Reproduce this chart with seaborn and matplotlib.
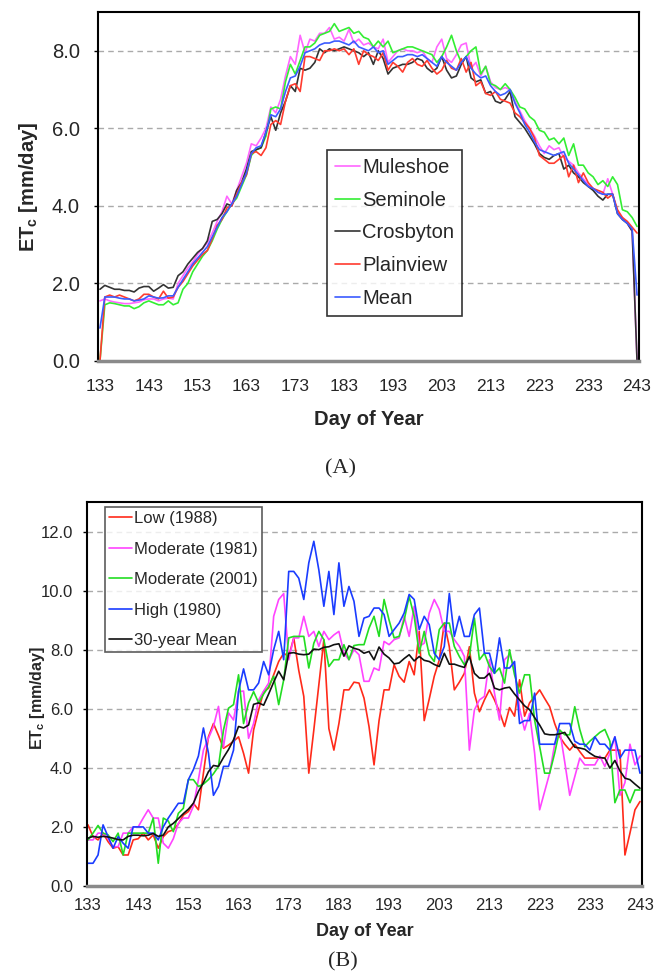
import pandas as pd
import matplotlib
matplotlib.use("Agg")
import matplotlib.pyplot as plt
import seaborn as sns

# x 값: 일자 (Day of Year)
DAYS = list(range(133, 244))

# (A) 관측소별 ETc [mm/day]
muleshoe = [1.55, 1.60, 1.55, 1.52, 1.50, 1.48, 1.48, 1.50, 1.52, 1.58,
            1.60, 1.60, 1.55, 1.60, 1.62, 1.60, 2.00, 2.20, 2.40, 2.55,
            2.75, 2.90, 3.05, 3.30, 3.60, 3.85, 4.25, 4.05, 4.40, 4.75,
            5.10, 5.60, 5.55, 5.75, 6.00, 6.55, 6.40, 6.75, 7.35, 7.85,
            7.65, 8.40, 7.95, 8.30, 8.25, 8.45, 8.45, 8.60, 8.30, 8.35,
            8.25, 8.55, 8.20, 8.30, 8.15, 8.20, 8.10, 8.05, 8.30, 7.70,
            7.85, 8.00, 8.05, 8.00, 8.00, 7.95, 8.00, 7.80, 7.70, 8.10,
            8.30, 7.80, 7.70, 7.90, 8.15, 8.20, 7.55, 7.70, 7.35, 7.60,
            7.20, 7.05, 7.00, 7.05, 7.00, 6.70, 6.45, 6.20, 6.00, 5.80,
            5.55, 5.35, 5.55, 5.45, 5.50, 5.25, 5.15, 5.05, 4.85, 4.70,
            4.55, 4.45, 4.35, 4.30, 4.70, 4.30, 3.85, 3.70, 3.55, 3.35,
            0.00]
seminole = [0.00, 1.45, 1.50, 1.48, 1.45, 1.42, 1.42, 1.35, 1.40, 1.50,
            1.55, 1.50, 1.45, 1.45, 1.55, 1.45, 1.50, 1.85, 2.00, 2.30,
            2.50, 2.70, 2.85, 3.10, 3.40, 3.65, 3.85, 4.05, 4.20, 4.50,
            4.80, 5.30, 5.45, 5.50, 5.80, 6.50, 6.55, 6.50, 7.20, 7.65,
            7.40, 7.75, 8.10, 8.10, 8.20, 8.40, 8.45, 8.50, 8.70, 8.50,
            8.55, 8.60, 8.45, 8.50, 8.35, 8.30, 8.10, 8.25, 8.10, 8.25,
            7.95, 8.00, 8.05, 8.10, 8.10, 8.05, 8.00, 7.95, 7.90, 7.70,
            7.85, 8.10, 8.40, 8.00, 7.70, 7.85, 8.00, 8.10, 7.40, 7.60,
            7.15, 7.10, 7.00, 7.15, 7.00, 6.80, 6.55, 6.50, 6.30, 6.20,
            5.95, 5.90, 5.70, 5.75, 5.60, 5.75, 5.30, 5.60, 5.05, 5.05,
            4.85, 4.75, 4.55, 4.65, 4.50, 4.75, 4.55, 3.90, 3.85, 3.70,
            3.47]
crosbyton = [1.85, 1.95, 1.90, 1.85, 1.85, 1.82, 1.82, 1.78, 1.88, 1.92,
             1.92, 1.80, 1.88, 1.97, 1.88, 1.90, 2.20, 2.30, 2.50, 2.65,
             2.80, 2.90, 3.10, 3.60, 3.65, 3.80, 4.05, 4.00, 4.40, 4.60,
             4.95, 5.40, 5.45, 5.50, 5.90, 6.30, 5.95, 6.40, 6.70, 7.10,
             6.95, 7.55, 7.50, 7.55, 7.70, 8.05, 7.95, 8.05, 8.00, 8.05,
             8.10, 8.05, 8.00, 7.95, 7.85, 7.95, 7.65, 8.00, 7.80, 7.40,
             7.55, 7.60, 7.65, 7.65, 7.70, 7.80, 7.75, 7.55, 7.45, 7.55,
             7.85, 7.50, 7.30, 7.35, 7.65, 7.85, 7.30, 7.20, 7.25, 6.90,
             6.95, 6.70, 6.65, 6.75, 6.95, 6.30, 6.15, 6.00, 5.80, 5.60,
             5.35, 5.25, 5.20, 5.30, 5.35, 4.95, 5.05, 4.85, 4.75, 4.60,
             4.50, 4.40, 4.25, 4.15, 4.30, 4.30, 3.80, 3.65, 3.55, 3.35,
             0.00]
plainview = [0.00, 1.65, 1.70, 1.65, 1.70, 1.65, 1.60, 1.55, 1.60, 1.72,
             1.72, 1.65, 1.60, 1.80, 1.62, 1.65, 1.90, 2.05, 2.25, 2.45,
             2.60, 2.75, 2.85, 3.15, 3.50, 3.65, 3.95, 4.00, 4.30, 4.60,
             4.80, 5.35, 5.40, 5.30, 5.50, 6.10, 6.20, 6.10, 6.70, 7.10,
             7.15, 6.95, 7.85, 7.85, 7.80, 7.75, 8.00, 8.00, 8.05, 8.00,
             8.05, 7.90, 8.05, 7.65, 8.00, 7.90, 7.85, 7.75, 7.95, 7.50,
             7.70, 7.60, 7.45, 7.70, 7.80, 7.65, 7.60, 7.75, 7.55, 7.40,
             7.50, 7.75, 7.55, 7.50, 7.80, 7.45, 7.70, 7.10, 7.20, 6.90,
             6.85, 6.95, 6.75, 6.70, 6.65, 6.40, 6.30, 6.15, 6.00, 5.75,
             5.30, 5.20, 5.10, 5.10, 5.20, 5.30, 4.75, 5.05, 4.60, 4.85,
             4.60, 4.45, 4.40, 4.35, 4.20, 4.30, 3.90, 3.70, 3.60, 3.45,
             3.30]
station_mean = [0.85, 1.65, 1.65, 1.65, 1.62, 1.60, 1.60, 1.55, 1.57, 1.60,
                1.68, 1.65, 1.62, 1.63, 1.68, 1.68, 1.90, 2.10, 2.30, 2.50,
                2.65, 2.80, 2.95, 3.20, 3.45, 3.70, 3.85, 4.05, 4.25, 4.55,
                4.85, 5.35, 5.50, 5.55, 5.90, 6.35, 6.30, 6.50, 6.95, 7.30,
                7.35, 7.60, 7.95, 8.00, 8.05, 8.15, 8.20, 8.20, 8.25, 8.25,
                8.20, 8.15, 8.25, 8.10, 8.05, 8.00, 8.10, 7.95, 8.00, 7.65,
                7.75, 7.85, 7.85, 7.90, 7.90, 7.85, 7.90, 7.80, 7.70, 7.60,
                7.85, 7.70, 7.60, 7.50, 7.70, 7.85, 7.55, 7.40, 7.30, 7.35,
                7.10, 6.95, 6.85, 6.90, 7.00, 6.65, 6.40, 6.10, 5.90, 5.65,
                5.45, 5.40, 5.35, 5.30, 5.35, 5.40, 5.10, 4.95, 4.80, 4.65,
                4.50, 4.45, 4.35, 4.30, 4.30, 4.30, 3.80, 3.65, 3.55, 3.40,
                1.70]

# (B) 연도별 ETc [mm/day]
low_1988 = [2.07, 1.67, 1.56, 1.79, 1.50, 1.28, 1.33, 1.05, 1.05, 1.56,
            1.60, 1.79, 1.56, 1.73, 1.28, 1.67, 1.84, 1.90, 2.10, 2.40,
            2.52, 2.80, 2.58, 3.82, 5.05, 5.50, 5.10, 4.66, 4.77, 4.90,
            5.05, 4.49, 3.82, 5.28, 5.96, 6.58, 6.70, 7.15, 7.60, 7.88,
            7.77, 8.40, 7.30, 6.42, 3.82, 5.28, 6.81, 8.34, 5.33, 4.60,
            5.50, 6.64, 6.64, 6.90, 6.87, 6.36, 5.40, 4.10, 5.60, 6.64,
            6.64, 7.49, 7.10, 6.90, 7.60, 7.15, 8.62, 5.60, 6.33, 7.10,
            7.65, 8.90, 8.10, 6.64, 6.90, 7.20, 8.10, 6.53, 5.90, 6.30,
            6.64, 6.30, 5.90, 5.40, 6.04, 5.75, 6.98, 5.75, 6.20, 6.42,
            6.64, 6.35, 6.07, 5.50, 5.05, 4.80, 4.60, 4.80, 4.55, 4.33,
            4.33, 4.33, 4.33, 4.33, 4.60, 4.60, 4.60, 1.05, 1.79, 2.58,
            2.86]
moderate_1981 = [1.56, 1.56, 1.79, 1.79, 1.60, 1.33, 1.33, 1.79, 1.79, 2.00,
                 2.00, 2.30, 2.58, 2.30, 2.30, 1.45, 1.28, 1.60, 2.12, 2.30,
                 2.30, 2.70, 3.60, 4.60, 5.00, 5.40, 6.08, 4.70, 5.86, 5.62,
                 6.58, 6.60, 5.00, 5.50, 6.30, 6.60, 6.87, 9.13, 9.70, 9.90,
                 7.66, 8.40, 8.40, 9.13, 8.45, 8.62, 8.11, 8.62, 8.34, 8.50,
                 8.62, 7.88, 7.66, 8.00, 7.83, 6.93, 6.93, 7.38, 7.30, 8.28,
                 8.17, 8.34, 8.40, 9.13, 8.45, 9.47, 8.11, 8.22, 9.24, 9.70,
                 9.36, 8.62, 8.62, 8.34, 8.11, 7.77, 4.60, 5.96, 6.30, 6.42,
                 7.66, 6.53, 5.62, 7.66, 7.83, 7.40, 6.00, 5.28, 5.85, 4.50,
                 2.58, 3.20, 3.82, 4.80, 5.28, 4.20, 3.07, 3.70, 4.33, 4.10,
                 4.10, 4.10, 4.40, 4.05, 4.50, 5.05, 3.07, 3.50, 4.80, 4.10,
                 4.40]
moderate_2001 = [1.56, 1.79, 2.05, 1.79, 1.73, 1.50, 1.79, 1.05, 1.79, 1.79,
                 1.79, 1.79, 1.79, 2.30, 0.77, 2.30, 2.20, 1.84, 2.46, 2.63,
                 3.60, 3.60, 3.37, 3.45, 3.60, 3.80, 4.05, 5.28, 6.02, 6.14,
                 7.15, 5.50, 6.20, 6.58, 6.20, 6.50, 6.75, 7.10, 6.14, 6.98,
                 8.40, 8.45, 8.45, 8.45, 7.38, 8.22, 8.62, 8.34, 7.43, 7.66,
                 7.66, 8.17, 7.66, 8.14, 8.17, 8.17, 8.73, 9.13, 8.45, 9.70,
                 9.00, 8.40, 8.45, 9.00, 9.80, 9.13, 7.88, 8.62, 7.83, 7.60,
                 8.68, 8.90, 8.90, 8.11, 7.77, 7.49, 7.77, 9.07, 7.66, 7.88,
                 7.43, 7.20, 7.38, 6.87, 8.00, 7.15, 6.53, 7.15, 7.15, 5.62,
                 4.72, 3.82, 3.82, 4.50, 5.28, 5.12, 5.12, 6.07, 5.30, 4.72,
                 4.90, 5.05, 5.20, 5.30, 4.90, 2.82, 3.25, 3.25, 2.82, 3.25,
                 3.25]
high_1980 = [0.77, 0.77, 1.05, 2.07, 1.67, 1.28, 1.67, 1.45, 1.28, 2.00,
             2.00, 2.00, 1.79, 1.79, 1.56, 2.00, 2.30, 2.55, 2.80, 2.80,
             3.60, 3.94, 4.40, 5.35, 4.50, 3.07, 3.37, 4.05, 4.05, 4.60,
             6.60, 7.35, 6.64, 6.64, 6.87, 7.60, 7.15, 8.00, 8.62, 7.66,
             10.65, 10.65, 10.42, 9.70, 10.94, 11.67, 10.70, 9.47, 10.65, 9.19,
             10.94, 9.47, 10.14, 9.64, 8.45, 9.07, 9.13, 9.41, 9.41, 9.19,
             8.45, 8.68, 8.90, 9.24, 9.87, 9.70, 8.68, 9.13, 8.85, 7.88,
             7.66, 8.11, 9.90, 8.45, 9.13, 8.45, 8.45, 9.19, 9.41, 7.88,
             7.88, 7.20, 8.40, 7.38, 7.38, 7.60, 5.50, 5.60, 5.60, 6.53,
             4.80, 4.80, 4.80, 4.80, 5.50, 5.50, 5.50, 4.90, 4.80, 4.80,
             4.60, 5.05, 4.80, 4.80, 4.60, 5.05, 4.33, 4.60, 4.60, 4.60,
             3.82]
mean_30yr = [1.62, 1.68, 1.65, 1.68, 1.66, 1.62, 1.57, 1.56, 1.68, 1.72,
             1.72, 1.70, 1.72, 1.78, 1.68, 1.72, 2.00, 2.12, 2.28, 2.45,
             2.60, 2.80, 3.20, 3.50, 3.87, 4.08, 4.05, 4.35, 4.62, 4.95,
             5.40, 5.35, 5.45, 6.15, 6.20, 6.12, 6.50, 6.90, 7.27, 6.98,
             7.88, 7.90, 7.85, 7.83, 7.85, 8.02, 8.00, 8.08, 8.10, 8.17,
             8.20, 7.78, 8.13, 8.05, 8.00, 7.88, 7.94, 7.66, 8.09, 7.85,
             7.72, 7.52, 7.55, 7.70, 7.83, 7.62, 7.77, 7.64, 7.60, 7.50,
             7.43, 7.88, 7.51, 7.51, 7.45, 7.40, 7.77, 7.20, 7.04, 7.04,
             7.20, 6.70, 6.64, 6.70, 6.73, 6.50, 6.30, 6.10, 5.97, 5.70,
             5.45, 5.15, 5.12, 5.12, 5.15, 5.20, 4.95, 4.70, 4.67, 4.63,
             4.50, 4.39, 4.35, 4.33, 3.99, 4.25, 3.90, 3.65, 3.60, 3.45,
             3.31]

TOP_NAMES = ['Muleshoe', 'Seminole', 'Crosbyton', 'Plainview', 'Mean']
TOP_SERIES = [muleshoe, seminole, crosbyton, plainview, station_mean]
TOP_COLORS = ['#ff66ff', '#33ee33', '#333333', '#ff3b2f', '#3b5bff']

BOT_NAMES = ['Low (1988)', 'Moderate (1981)', 'Moderate (2001)', 'High (1980)', '30-year Mean']
BOT_SERIES = [low_1988, moderate_1981, moderate_2001, high_1980, mean_30yr]
BOT_COLORS = ['#ff2a1a', '#ff44ff', '#22dd22', '#1a3cff', '#111111']

X_TICKS = list(range(133, 244, 10))

for s in TOP_SERIES + BOT_SERIES:
    assert len(s) == len(DAYS), len(s)


def to_long(names, series):
    frames = []
    for name, vals in zip(names, series):
        frames.append(pd.DataFrame({'day': DAYS, 'etc': vals, 'site': name}))
    return pd.concat(frames, ignore_index=True)


df_top = to_long(TOP_NAMES, TOP_SERIES)
df_bot = to_long(BOT_NAMES, BOT_SERIES)

sns.set_style("white")
plt.rcParams['font.family'] = ['Liberation Sans', 'DejaVu Sans']
plt.rcParams['mathtext.fontset'] = 'custom'
plt.rcParams['mathtext.rm'] = 'Liberation Sans'
plt.rcParams['mathtext.bf'] = 'Liberation Sans:bold'

W, H = 660, 976
fig = plt.figure(figsize=(W / 100, H / 100), dpi=100)
ax1 = fig.add_axes([98 / W, 1 - 361 / H, (639 - 98) / W, (361 - 12) / H])
ax2 = fig.add_axes([87 / W, 1 - 886 / H, (642 - 87) / W, (886 - 502) / H])


def style_axes(ax, yfs, xfs, ypad, xpad):
    ax.set_xticks(X_TICKS)
    ax.set_xticklabels([str(t) for t in X_TICKS])
    ax.yaxis.grid(True, linestyle=(0, (4, 3)), color='#aaaaaa', linewidth=1.0)
    ax.xaxis.grid(False)
    ax.set_axisbelow(True)
    for side in ['top', 'right', 'left']:
        ax.spines[side].set_color('black')
        ax.spines[side].set_linewidth(1.5)
    ax.spines['bottom'].set_color('#8a8a8a')
    ax.spines['bottom'].set_linewidth(2.5)
    ax.tick_params(axis='y', direction='out', length=3, width=1, color='black',
                   labelsize=yfs, pad=ypad, left=True)
    ax.tick_params(axis='x', length=0, labelsize=xfs, pad=xpad)


# (A) 관측소별
sns.lineplot(data=df_top, x='day', y='etc', hue='site', hue_order=TOP_NAMES,
             palette=TOP_COLORS, estimator=None, linewidth=1.2, ax=ax1)
ax1.set_xlim(132.6, 243.4)
ax1.set_ylim(0, 9)
ax1.set_yticks([0, 2, 4, 6, 8])
ax1.set_yticklabels(['0.0', '2.0', '4.0', '6.0', '8.0'])
style_axes(ax1, 14.5, 12.5, 10, 13)
ax1.set_xlabel('Day of Year', fontsize=14.5, fontweight='bold')
ax1.set_ylabel(r'ET$_{\mathbf{c}}$ [mm/day]', fontsize=14.5, fontweight='bold')
ax1.xaxis.set_label_coords(0.5, -0.14)
ax1.yaxis.set_label_coords(-0.107, 0.5)
sns.move_legend(ax1, loc='upper left', bbox_to_anchor=(0.423, 0.605), title=None,
                frameon=True, fancybox=False, fontsize=14.5, handlelength=1.25,
                handletextpad=0.1, labelspacing=0.68, borderpad=0.4,
                borderaxespad=0)
leg = ax1.get_legend()
leg.get_frame().set_edgecolor('black')
leg.get_frame().set_linewidth(1.2)

# (B) 연도별
sns.lineplot(data=df_bot, x='day', y='etc', hue='site', hue_order=BOT_NAMES,
             palette=BOT_COLORS, estimator=None, linewidth=1.2, ax=ax2)
ax2.set_xlim(132.8, 243.4)
ax2.set_ylim(0, 13)
ax2.set_yticks([0, 2, 4, 6, 8, 10, 12])
ax2.set_yticklabels(['0.0', '2.0', '4.0', '6.0', '8.0', '10.0', '12.0'])
style_axes(ax2, 12, 12, 7, 9)
ax2.set_xlabel('Day of Year', fontsize=13, fontweight='bold')
ax2.set_ylabel(r'ET$_{\mathbf{c}}$ [mm/day]', fontsize=11.5, fontweight='bold')
ax2.xaxis.set_label_coords(0.5, -0.097)
ax2.yaxis.set_label_coords(-0.072, 0.49)
sns.move_legend(ax2, loc='upper left', bbox_to_anchor=(0.032, 0.987), title=None,
                frameon=True, fancybox=False, fontsize=12, handlelength=1.4,
                handletextpad=0.1, labelspacing=0.93, borderpad=0.25,
                borderaxespad=0)
leg = ax2.get_legend()
leg.get_frame().set_edgecolor('#333333')
leg.get_frame().set_linewidth(1.2)

# 패널 라벨
fig.text(340 / W, 1 - 469 / H, '(A)', ha='center', va='center', fontsize=16,
         family=['Liberation Serif', 'DejaVu Serif'])
fig.text(343 / W, 1 - 962 / H, '(B)', ha='center', va='center', fontsize=16,
         family=['Liberation Serif', 'DejaVu Serif'])

fig.savefig('out.png', dpi=100)
